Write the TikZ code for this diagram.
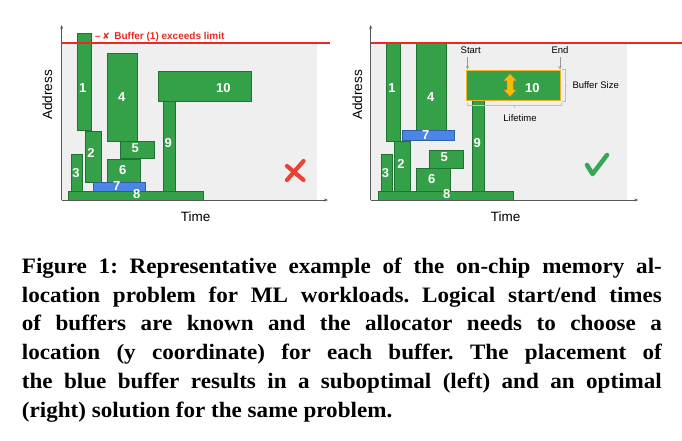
\documentclass[tikz,border=0pt]{standalone}
\usepackage{fontspec}
\setmainfont{Liberation Serif}[FakeStretch=1.05]
\setsansfont{Liberation Sans}
\newfontfamily\symfont{DejaVu Sans}
\usetikzlibrary{arrows.meta}
\definecolor{bufgreen}{RGB}{52,160,72}
\definecolor{bufedge}{RGB}{32,115,50}
\definecolor{bufblue}{RGB}{74,134,232}
\definecolor{bgray}{RGB}{239,239,239}
\definecolor{limred}{RGB}{235,40,35}
\definecolor{xred}{RGB}{234,67,53}
\definecolor{okgreen}{RGB}{52,168,83}
\definecolor{hlorange}{RGB}{241,180,40}
\definecolor{arrowyellow}{RGB}{251,188,4}
\definecolor{arroworange}{RGB}{230,145,56}
\definecolor{annogray}{RGB}{150,150,150}
\tikzset{
  buf/.style={fill=bufgreen, draw=bufedge, line width=0.4pt},
  bbuf/.style={fill=bufblue, draw=bufblue!70!black, line width=0.4pt},
  num/.style={text=white, font=\sffamily\bfseries\fontsize{13}{13}\selectfont, inner sep=0pt},
  axlabel/.style={font=\sffamily\fontsize{13.5}{13.5}\selectfont, inner sep=0pt},
  axis/.style={draw=black!65, line width=0.6pt, -{Stealth[length=4pt,width=3pt]}},
  limitline/.style={draw=limred, line width=1.8pt},
  anno/.style={font=\sffamily\fontsize{9.5}{9.5}\selectfont, inner sep=0pt},
  annoline/.style={draw=annogray, line width=0.6pt},
  bracket/.style={draw=annogray!60, line width=0.5pt},
  capline/.style={anchor=base west, inner sep=0pt, font=\bfseries\fontsize{22}{28}\selectfont\frenchspacing}
}
\begin{document}
\begin{tikzpicture}[x=1pt,y=-1pt]
\useasboundingbox (0,0) rectangle (682,440);
% ---------------- LEFT PANEL ----------------
\fill[bgray] (61.7,44) rectangle (316.7,200);
\filldraw[buf] (76.7,33.3) rectangle (90.7,130);
\filldraw[buf] (85,131) rectangle (100.7,181.7);
\filldraw[buf] (71,154.3) rectangle (82.3,191.7);
\filldraw[buf] (106.7,53.3) rectangle (136.7,140.7);
\filldraw[buf] (120,140.7) rectangle (154,158.3);
\filldraw[buf] (106.7,159.3) rectangle (140,181.7);
\filldraw[buf] (163.3,100) rectangle (175,191);
\filldraw[buf] (158.3,70.7) rectangle (250.7,100.7);
\filldraw[bbuf] (93.3,181.7) rectangle (145,191);
\filldraw[buf] (68.3,191) rectangle (203.3,200);
\node[num] (l1) at (82.7,87.7) {1};
\node[num] (l2) at (91,152.7) {2};
\node[num] (l3) at (76,172.7) {3};
\node[num] (l4) at (121.7,96.7) {4};
\node[num] (l5) at (135.3,148.3) {5};
\node[num] (l6) at (122.7,170.3) {6};
\node[num] (l7) at (116.7,186) {7};
\node[num] (l8) at (136.7,194.5) {8};
\node[num] (l9) at (168.3,143.3) {9};
\node[num] (l10) at (223.3,87.7) {10};
\coordinate (lo) at (61.7,200);
\coordinate (ly) at (61.7,25);
\coordinate (lx) at (328,200);
\draw[axis] (lo) -- (ly);
\draw[axis] (lo) -- (lx);
\coordinate (lr1) at (61.7,43.3);
\coordinate (lr2) at (330,43.3);
\draw[limitline] (lr1) -- (lr2);
\node[anchor=west, inner sep=0pt, text=limred, font=\sffamily\bfseries\fontsize{10}{10}\selectfont] (limtxt) at (95,37.3) {–\,{\symfont\fontsize{9}{9}\selectfont ✘}\, Buffer (1) exceeds limit};
\node[axlabel, rotate=90] (laddr) at (47.3,95) {Address};
\node[axlabel] (ltime) at (195.7,216.7) {Time};
\coordinate (xa1) at (287,166);
\coordinate (xa2) at (303.5,180);
\coordinate (xb1) at (303.5,161);
\coordinate (xb2) at (287,180);
\draw[xred, line width=4.2pt, line cap=round] (xa1) -- (xa2);
\draw[xred, line width=4.2pt, line cap=round] (xb1) -- (xb2);
% ---------------- RIGHT PANEL ----------------
\fill[bgray] (370.7,44) rectangle (626.7,200);
\filldraw[buf] (386,43.3) rectangle (400,140.7);
\filldraw[buf] (416,43.3) rectangle (446,130);
\filldraw[buf] (394,140.7) rectangle (410,191);
\filldraw[buf] (380.7,154.3) rectangle (392,191);
\filldraw[buf] (429.3,150) rectangle (462.7,168.3);
\filldraw[buf] (416,168.3) rectangle (450,191);
\filldraw[buf] (472.3,100) rectangle (484.3,191);
\filldraw[bbuf] (402.3,130) rectangle (454.3,140);
\filldraw[buf] (377.7,191) rectangle (512.7,200);
\filldraw[fill=bufgreen, draw=hlorange, line width=1.5pt] (466.7,70.7) rectangle (560.7,100.7);
\node[num] (r1) at (392,87.7) {1};
\node[num] (r2) at (401,164.3) {2};
\node[num] (r3) at (385.5,172.7) {3};
\node[num] (r4) at (430.7,96.7) {4};
\node[num] (r5) at (444.3,157.3) {5};
\node[num] (r6) at (431.7,179.3) {6};
\node[num] (r7) at (425.7,134.8) {7};
\node[num] (r8) at (446.7,194.5) {8};
\node[num] (r9) at (477.3,143.3) {9};
\node[num] (r10) at (532.3,87.7) {10};
% double arrow (buffer size)
\filldraw[fill=arrowyellow, draw=arroworange, line width=0.5pt, line join=round]
  (510,74.3) -- (516,80.5) -- (513,80.5) -- (513,90) -- (516,90) -- (510,96.3)
  -- (504,90) -- (507,90) -- (507,80.5) -- (504,80.5) -- cycle;
\coordinate (ro) at (370.7,200);
\coordinate (ry) at (370.7,25);
\coordinate (rx) at (638.3,200);
\draw[axis] (ro) -- (ry);
\draw[axis] (ro) -- (rx);
\coordinate (rr1) at (370.7,43.3);
\coordinate (rr2) at (682,43.3);
\draw[limitline] (rr1) -- (rr2);
\node[anno] (start) at (470.7,50.5) {Start};
\node[anno] (endt) at (560,50.5) {End};
\coordinate (sa1) at (467.5,57);
\coordinate (sa2) at (467.5,69.5);
\coordinate (ea1) at (560,57);
\coordinate (ea2) at (560,69.5);
\draw[annoline, -{Stealth[length=3.5pt,width=3pt]}] (sa1) -- (sa2);
\draw[annoline, -{Stealth[length=3.5pt,width=3pt]}] (ea1) -- (ea2);
\draw[bracket] (562,69.5) -- (565,69.5) -- (565,101.5) -- (562,101.5);
\draw[bracket] (565,85.5) -- (567,85.5);
\draw[bracket] (467.5,102.5) -- (467.5,105.2) -- (561,105.2) -- (561,102.5);
\draw[bracket] (514.3,105.2) -- (514.3,107.5);
\node[anno, anchor=west] (bsize) at (572.3,85.5) {Buffer Size};
\node[anno] (life) at (520,117.7) {Lifetime};
\node[axlabel, rotate=90] (raddr) at (357.3,95) {Address};
\node[axlabel] (rtime) at (505.7,216.7) {Time};
\coordinate (c1) at (587,165);
\coordinate (c2) at (592.5,174);
\coordinate (c3) at (607,155);
\draw[okgreen, line width=4.5pt, line cap=round, line join=round] (c1) -- (c2) -- (c3);
% ---------------- CAPTION ----------------
\node[capline] (cap1) at (21.7,273.3) {\makebox[640pt][s]{Figure 1: Representative example of the on-chip memory al-}};
\node[capline] (cap2) at (21.7,302) {\makebox[640pt][s]{location problem for ML workloads. Logical start/end times}};
\node[capline] (cap3) at (21.7,330.7) {\makebox[640pt][s]{of buffers are known and the allocator needs to choose a}};
\node[capline] (cap4) at (21.7,359.3) {\makebox[640pt][s]{location (y coordinate) for each buffer. The placement of}};
\node[capline] (cap5) at (21.7,388.3) {\makebox[640pt][s]{the blue buffer results in a suboptimal (left) and an optimal}};
\node[capline] (cap6) at (21.7,417) {(right) solution for the same problem.};
\end{tikzpicture}
\end{document}
